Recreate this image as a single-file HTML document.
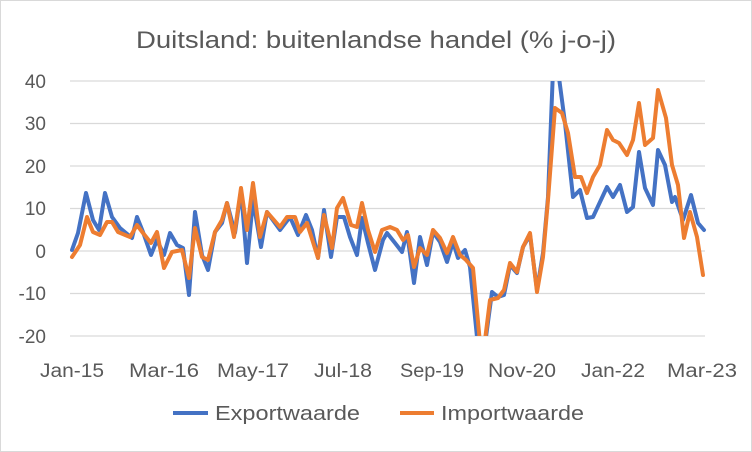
<!DOCTYPE html>
<html><head><meta charset="utf-8"><style>
body{margin:0;background:#fff}
svg{display:block}
text{font-family:"Liberation Sans",sans-serif;fill:#595959}
</style></head><body>
<svg width="752" height="452" viewBox="0 0 752 452" xmlns="http://www.w3.org/2000/svg">
<rect x="0.5" y="0.5" width="751" height="451" fill="#fff" stroke="#d9d9d9"/>
<text x="136" y="48" font-size="24" textLength="480" lengthAdjust="spacingAndGlyphs">Duitsland: buitenlandse handel (% j-o-j)</text>
<g stroke="#d9d9d9" stroke-width="1.3">
<line x1="70" x2="705" y1="81" y2="81"/><line x1="70" x2="705" y1="123.5" y2="123.5"/>
<line x1="70" x2="705" y1="166" y2="166"/><line x1="70" x2="705" y1="208.5" y2="208.5"/>
<line x1="70" x2="705" y1="251" y2="251"/><line x1="70" x2="705" y1="293.5" y2="293.5"/>
<line x1="70" x2="705" y1="336" y2="336"/>
</g>
<g font-size="19" text-anchor="end">
<text x="46" y="88">40</text><text x="46" y="130">30</text><text x="46" y="173">20</text>
<text x="46" y="215">10</text><text x="46" y="258">0</text><text x="46" y="300">-10</text><text x="46" y="343">-20</text>
</g>
<g font-size="19" text-anchor="middle">
<text x="72" y="377" textLength="64" lengthAdjust="spacingAndGlyphs">Jan-15</text><text x="164" y="377" textLength="70" lengthAdjust="spacingAndGlyphs">Mar-16</text><text x="253" y="377" textLength="72" lengthAdjust="spacingAndGlyphs">May-17</text>
<text x="343" y="377" textLength="58" lengthAdjust="spacingAndGlyphs">Jul-18</text><text x="432" y="377" textLength="64" lengthAdjust="spacingAndGlyphs">Sep-19</text><text x="522" y="377" textLength="68" lengthAdjust="spacingAndGlyphs">Nov-20</text>
<text x="613" y="377" textLength="64" lengthAdjust="spacingAndGlyphs">Jan-22</text><text x="702" y="377" textLength="70" lengthAdjust="spacingAndGlyphs">Mar-23</text>
</g>
<defs><clipPath id="c"><rect x="60" y="81" width="660" height="255"/></clipPath></defs>
<g clip-path="url(#c)" fill="none" stroke-width="4" stroke-linejoin="round" stroke-linecap="round">
<polyline stroke="#4472c4" points="72,250 78,233 86,193 93,220 99,230 105,193 112,217 120,228 132,238 137,217 143,232 151,255 157,240 164,255 170,233 177,245 183,248 189,295 195,212 202,255 208,270 215,232 222,223 227,203 235,233 241,190 247,263 253,200 261,247 267,212 280,230 290,217 298,235 306,215 312,230 318,258 324,210 331,257 337,217 344,217 350,237 357,255 362,218 368,243 375,270 383,240 387,233 395,243 402,252 407,232 414,283 420,237 427,265 433,232 440,242 447,262 453,242 458,258 465,250 470,267 477,337 482,360 486,337 492,292 498,297 504,295 510,265 517,273 523,247 530,235 537,290 543,253 548,197 553,70 558,70 565,123 573,197 580,190 587,218 593,217 600,202 607,187 613,197 620,185 627,212 633,207 639,152 645,188 653,205 658,150 665,165 672,202 675,197 683,220 691,195 698,223 704,230"/>
<polyline stroke="#ed7d31" points="72,257 80,245 87,217 93,232 100,235 107,222 112,222 118,232 130,237 137,225 143,233 151,243 157,232 164,268 172,252 182,250 189,278 195,228 202,257 208,260 215,232 222,220 227,203 234,237 241,188 247,230 253,183 260,237 267,212 280,227 287,217 295,217 300,232 307,223 318,258 324,215 332,248 337,208 343,198 351,225 357,227 362,203 368,230 375,252 382,230 390,227 397,230 403,240 408,235 414,267 420,248 427,255 433,230 440,238 447,253 453,237 460,255 466,260 473,268 480,343 485,340 490,300 498,298 504,290 510,263 517,272 523,247 530,233 537,292 543,257 548,200 555,108 562,113 568,133 575,177 581,177 587,193 593,177 600,165 607,130 613,140 619,143 627,155 633,140 639,103 645,145 653,138 658,90 666,118 672,165 678,185 684,238 690,212 697,237 703,275"/>
</g>
<line x1="173" x2="208" y1="413" y2="413" stroke="#4472c4" stroke-width="4"/>
<text x="215" y="420" font-size="20" textLength="145" lengthAdjust="spacingAndGlyphs">Exportwaarde</text>
<line x1="400" x2="434" y1="413" y2="413" stroke="#ed7d31" stroke-width="4"/>
<text x="441" y="420" font-size="20" textLength="143" lengthAdjust="spacingAndGlyphs">Importwaarde</text>
</svg>
</body></html>
